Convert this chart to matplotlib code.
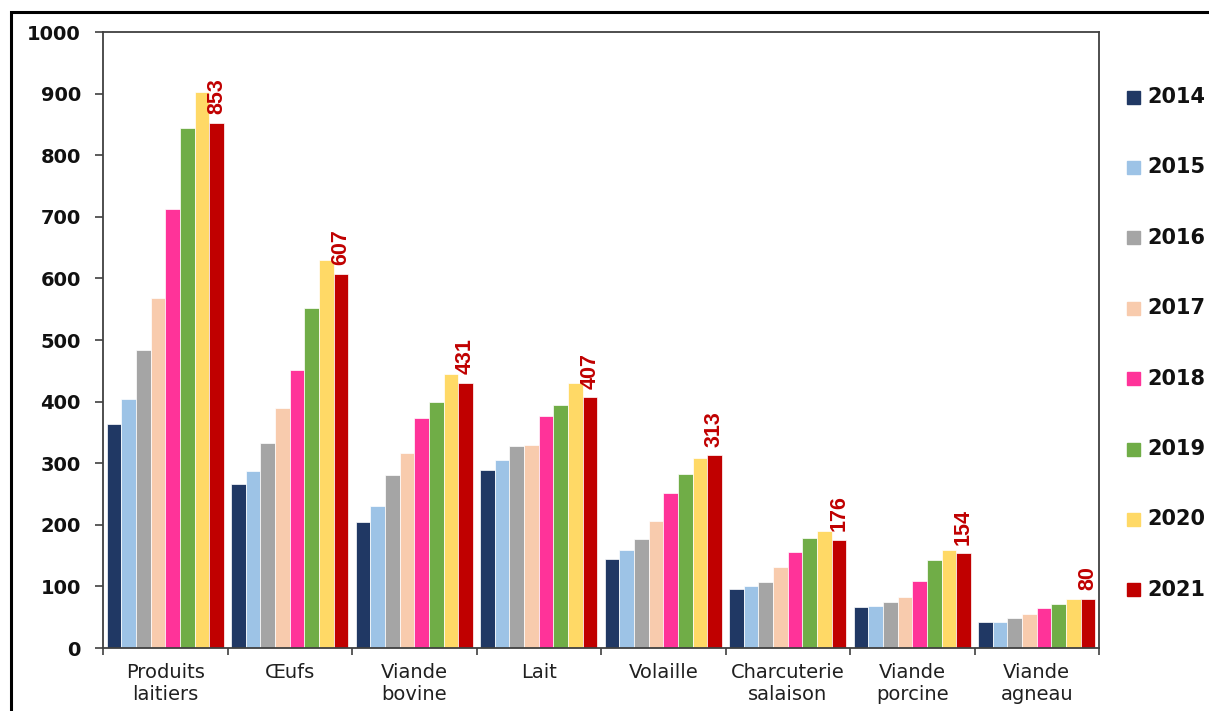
import matplotlib.pyplot as plt
import numpy as np
from matplotlib.patches import Rectangle

# ---DATA---#
categories = ['Produits\nlaitiers', 'Œufs', 'Viande\nbovine', 'Lait', 'Volaille',
              'Charcuterie\nsalaison', 'Viande\nporcine', 'Viande\nagneau']
years = ['2014', '2015', '2016', '2017', '2018', '2019', '2020', '2021']
v2014 = [364, 266, 205, 289, 145, 96, 66, 42]
v2015 = [404, 287, 230, 305, 159, 101, 68, 42]
v2016 = [483, 333, 281, 328, 177, 107, 74, 49]
v2017 = [568, 389, 316, 330, 206, 132, 82, 55]
v2018 = [713, 451, 373, 376, 251, 156, 108, 65]
v2019 = [844, 552, 400, 395, 282, 178, 143, 72]
v2020 = [902, 630, 445, 431, 308, 190, 159, 79]
v2021 = [853, 607, 431, 407, 313, 176, 154, 80]
series = [v2014, v2015, v2016, v2017, v2018, v2019, v2020, v2021]
colors = ['#203864', '#9DC3E6', '#A5A5A5', '#F8CBAD',
          '#FF3399', '#70AD47', '#FFD966', '#C00000']

plt.rcParams['font.family'] = ['DejaVu Sans']

# ---FIGURE---#
f = plt.figure(figsize=(12.09, 7.11), dpi=100)
W, H = 1209.0, 711.0
panel = f.add_axes([103 / W, 1 - 648 / H, 996 / W, 616 / H])

# outer frame (top and left edges visible)
f.patches.append(Rectangle((11 / W, -0.05), 1.1, 1 - 12 / H + 0.05,
                           transform=f.transFigure, fill=False,
                           edgecolor='black', linewidth=2.2))

# ---BARS---#
x = np.arange(len(categories))
n = len(series)
bw = 0.94 / n
for i, vals in enumerate(series):
    pos = x + (i - (n - 1) / 2) * bw
    panel.bar(pos, vals, width=bw, color=colors[i], edgecolor='white',
              linewidth=0.5, zorder=2)

# data labels on last year
pos_last = x + (n - 1 - (n - 1) / 2) * bw
for xp, v in zip(pos_last, v2021):
    panel.text(xp, v + 14, str(v), rotation=90, ha='center', va='bottom',
               color='#C00000', fontsize=15.5, fontweight='bold',
               family=['Liberation Sans Narrow', 'Liberation Sans'])

# ---AXES---#
panel.set_xlim(-0.5, len(categories) - 0.5)
panel.set_ylim(0, 1000)
panel.set_yticks(np.arange(0, 1001, 100))
panel.tick_params(axis='y', labelsize=14, length=6, width=1.2,
                  color='#404040', labelcolor='#111111', pad=10)
for lab in panel.get_yticklabels():
    lab.set_fontweight('bold')
panel.set_xticks(np.arange(-0.5, len(categories), 1.0))
panel.set_xticklabels([])
panel.set_xticks(x, minor=True)
panel.set_xticklabels(categories, minor=True, fontsize=14, color='#202020',
                      linespacing=1.2)
panel.tick_params(axis='x', which='major', length=5, width=1.2, color='#404040')
panel.tick_params(axis='x', which='minor', length=0, pad=11)
for s in panel.spines.values():
    s.set_color('#404040')
    s.set_linewidth(1.3)

# ---LEGEND---#
for i, yr in enumerate(years):
    yc = 97 + i * 70.4
    f.patches.append(Rectangle((1127 / W, 1 - (yc + 6.5) / H), 13 / W, 13 / H,
                               transform=f.transFigure, color=colors[i]))
    f.text(1147 / W, 1 - yc / H, yr, fontsize=15, fontweight='bold',
           color='#111111', va='center', ha='left')

f.savefig('out.png', dpi=100)
